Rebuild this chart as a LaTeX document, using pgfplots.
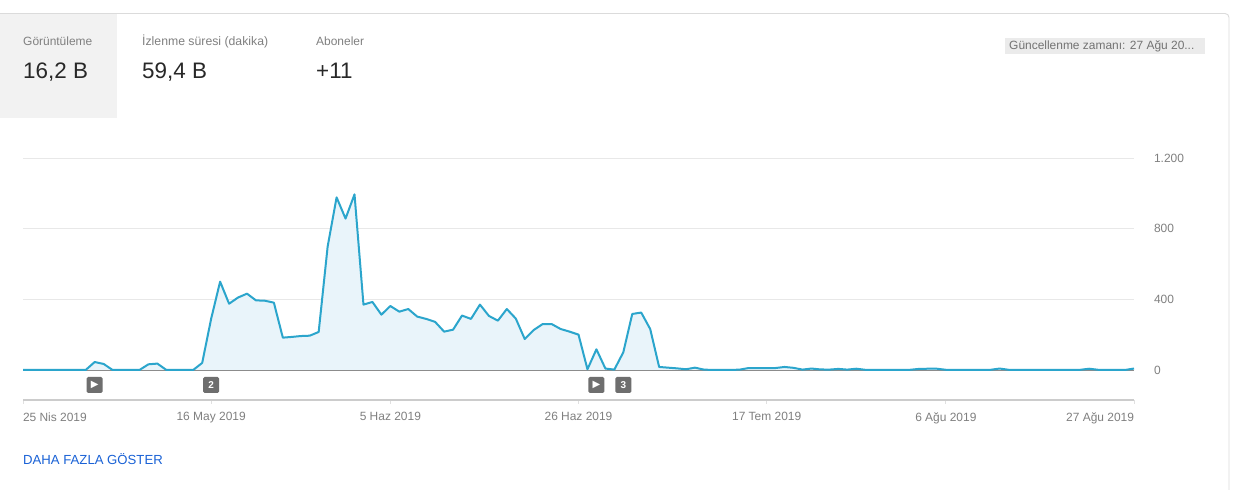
\documentclass[border=0pt]{standalone}
\usepackage{pgfplots}
\usepackage{pgfplotstable}
\pgfplotsset{compat=1.18}
\usepackage{fontspec}
\setmainfont{Liberation Sans}
\newfontfamily\dv{DejaVu Sans}
\definecolor{linec}{HTML}{2BA5CC}
\definecolor{areac}{HTML}{E9F4FA}
\definecolor{gridc}{HTML}{E8E8E8}
\definecolor{txt}{HTML}{808080}
\definecolor{dark}{HTML}{282828}
\definecolor{mark}{HTML}{6E6E6E}
\newcommand{\playsym}{{\dv\fontsize{10}{10}\selectfont\char"25B6}}
\pgfplotstableread{
d v
0 0
1 0
2 0
3 0
4 0
5 0
6 0
7 0
8 45
9 34
10 0
11 0
12 0
13 0
14 32
15 36
16 0
17 0
18 0
19 0
20 40
21 290
22 500
23 375
24 410
25 432
26 394
27 392
28 381
29 183
30 187
31 192
32 194
33 215
34 698
35 977
36 857
37 994
38 370
39 385
40 313
41 362
42 330
43 345
44 302
45 289
46 272
47 217
48 228
49 308
50 289
51 370
52 306
53 279
54 345
55 291
56 175
57 226
58 260
59 260
60 232
61 217
62 200
63 4
64 117
65 8
66 2
67 100
68 317
69 325
70 232
71 17
72 13
73 9
74 4
75 13
76 2
77 0
78 0
79 0
80 2
81 11
82 11
83 11
84 11
85 17
86 12
87 2
88 8
89 3
90 2
91 6
92 2
93 7
94 1
95 1
96 1
97 0
98 0
99 1
100 6
101 7
102 7
103 1
104 0
105 0
106 0
107 0
108 1
109 8
110 1
111 0
112 0
113 0
114 0
115 0
116 0
117 0
118 1
119 7
120 1
121 0
122 0
123 0
124 8
}\views
\pgfplotstableread{
d y l
8 -85 \playsym
21 -85 2
64 -85 \playsym
67 -85 3
}\annot
\begin{document}
\begin{tikzpicture}[x=1bp,y=1bp]
\path[use as bounding box,fill=white] (0,0) rectangle (1234,490);
% card
\draw[color=gray!28,line width=0.9bp,rounded corners=4bp] (-5,476.5) -- (1229,476.5) -- (1229,-5);
\fill[black!5] (0,372) rectangle (117,476);
\node[anchor=base west,inner sep=0,font=\fontsize{12}{14}\selectfont,text=txt] at (23,444.5) {Görüntüleme};
\node[anchor=base west,inner sep=0,font=\fontsize{12.3}{14}\selectfont,text=txt] at (142,444.5) {İzlenme süresi (dakika)};
\node[anchor=base west,inner sep=0,font=\fontsize{12}{14}\selectfont,text=txt] at (316,444.5) {Aboneler};
\node[anchor=base west,inner sep=0,font=\fontsize{22.5}{28}\selectfont,text=dark] at (23,411.5) {16,2 B};
\node[anchor=base west,inner sep=0,font=\fontsize{22.5}{28}\selectfont,text=dark] at (142,411.5) {59,4 B};
\node[anchor=base west,inner sep=0,font=\fontsize{22.5}{28}\selectfont,text=dark] at (316,411.5) {+11};
\fill[black!8] (1005,436) rectangle (1205,452);
\node[anchor=base west,inner sep=0,font=\fontsize{12}{14}\selectfont,text=txt!90!black] at (1009,440) {Güncellenme zamanı: 27 Ağu 20...};
\node[anchor=base west,inner sep=0,font=\fontsize{13.2}{15}\selectfont,text={rgb,255:red,26;green,98;blue,214}] at (23,25.5) {DAHA FAZLA GÖSTER};
\begin{axis}[
  at={(23bp,90bp)},anchor=south west,
  scale only axis,width=1111bp,height=242bp,
  xmin=0,xmax=124,ymin=-170,ymax=1200,
  axis y line=right,axis x line=bottom,
  y axis line style={draw=none},
  x axis line style={-,draw=black!20,line width=1.5bp},
  xtick={0,21,41,62,83,103,124},
  xticklabels={\makebox[0pt][l]{25 Nis 2019},16 May 2019,5 Haz 2019,26 Haz 2019,17 Tem 2019,6 Ağu 2019,\makebox[0pt][r]{27 Ağu 2019}},
  ytick={0,400,800,1200},
  yticklabels={0,400,800,1.200},
  ymajorgrids,
  grid style={gridc,line width=0.9bp},
  major tick length=4bp,
  tick align=outside,
  x tick style={draw=black!12,line width=0.9bp},
  y tick style={draw=none},
  tick label style={font=\fontsize{12}{14}\selectfont,text=txt},
  xticklabel style={yshift=-5bp},
  yticklabel style={anchor=west,xshift=12.5bp},
  clip=false,
]
\addplot[fill=areac,draw=none] table[x=d,y=v] {\views} \closedcycle;
\addplot[draw=black!45,line width=0.9bp] coordinates {(0,0) (124,0)};
\addplot[linec,line width=2bp,line join=round] table[x=d,y=v] {\views};
\addplot[only marks,mark=none,nodes near coords,point meta=explicit symbolic,
  every node near coord/.style={anchor=center,fill=mark,text=white,rounded corners=1.5bp,inner sep=0pt,
    minimum width=16bp,minimum height=16bp,font=\fontsize{10}{10}\selectfont\bfseries}]
  table[x=d,y=y,meta=l] {\annot};
\end{axis}
\end{tikzpicture}
\end{document}
